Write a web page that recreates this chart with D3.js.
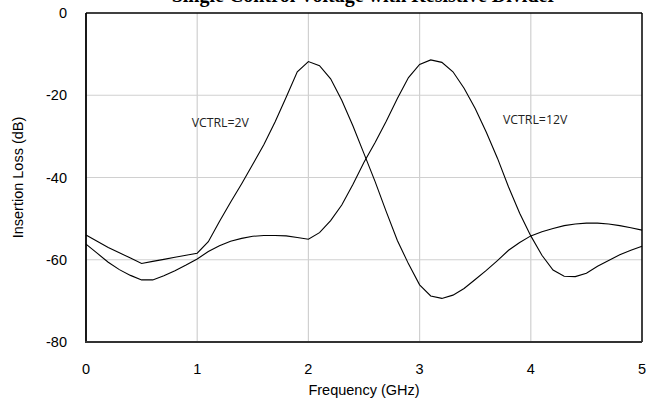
<!DOCTYPE html>
<html><head><meta charset="utf-8">
<script src="https://cdn.jsdelivr.net/npm/d3@7"></script>
<style>html,body{margin:0;padding:0;background:#fff;overflow:hidden}</style>
</head><body>
<script>
const freqs = d3.range(0, 51).map(i => +(i * 0.1).toFixed(1));
const vctrl2V = [-54.0,-55.5,-57.0,-58.3,-59.6,-60.9,-60.4,-59.9,-59.4,-58.9,
  -58.4,-55.6,-50.7,-46.0,-41.5,-36.8,-32.0,-26.5,-20.5,-14.3,
  -11.8,-12.8,-16.0,-21.2,-27.4,-34.2,-41.0,-48.3,-55.3,-61.0,
  -66.1,-68.8,-69.4,-68.6,-67.0,-64.8,-62.6,-60.2,-57.7,-55.8,
  -54.2,-53.2,-52.4,-51.7,-51.3,-51.1,-51.1,-51.3,-51.7,-52.2,-52.8];
const vctrl12V = [-56.2,-58.4,-60.6,-62.4,-63.8,-64.9,-64.9,-63.9,-62.7,-61.3,
  -59.8,-58.0,-56.6,-55.5,-54.8,-54.3,-54.1,-54.1,-54.2,-54.6,
  -55.0,-53.4,-50.5,-46.7,-41.7,-36.3,-31.5,-26.3,-20.8,-15.7,
  -12.5,-11.4,-12.0,-14.3,-18.3,-23.2,-29.0,-35.3,-42.3,-48.7,
  -54.2,-58.9,-62.5,-64.0,-64.1,-63.3,-61.6,-60.2,-58.8,-57.7,-56.7];
const xTicks = [0,1,2,3,4,5];
const yTicks = [0,-20,-40,-60,-80];
const title = "Single Control Voltage with Resistive Divider";
const labels = [{text:"VCTRL=2V", f:0.95, v:-27.8}, {text:"VCTRL=12V", f:3.75, v:-26.9}];

const W = 647, H = 401;
const L = 86, R = 642, T = 13, B = 342;
const svg = d3.select("body").append("svg").attr("width", W).attr("height", H);
const x = d3.scaleLinear().domain([0,5]).range([L,R]);
const y = d3.scaleLinear().domain([-80,0]).range([B,T]);

// grid
svg.append("g").selectAll("line").data(xTicks.slice(1,-1)).join("line")
  .attr("x1", d=>x(d)).attr("x2", d=>x(d)).attr("y1", T).attr("y2", B)
  .attr("stroke", "#d0d0d0").attr("stroke-width", 1.2);
svg.append("g").selectAll("line").data(yTicks.slice(1,-1)).join("line")
  .attr("y1", d=>y(d)).attr("y2", d=>y(d)).attr("x1", L).attr("x2", R)
  .attr("stroke", "#d0d0d0").attr("stroke-width", 1.2);

// frame
svg.append("line").attr("x1",L).attr("x2",R).attr("y1",T).attr("y2",T).attr("stroke","#000").attr("stroke-width",1.5);
svg.append("line").attr("x1",R).attr("x2",R).attr("y1",T).attr("y2",B).attr("stroke","#000").attr("stroke-width",1.5);
svg.append("line").attr("x1",L).attr("x2",L).attr("y1",T).attr("y2",B).attr("stroke","#000").attr("stroke-width",1.8);
svg.append("line").attr("x1",L-1).attr("x2",R).attr("y1",B).attr("y2",B).attr("stroke","#333").attr("stroke-width",2.2);

// tick labels
svg.append("g").selectAll("text").data(yTicks).join("text")
  .attr("x", L-19).attr("y", d=>y(d)+5).attr("text-anchor","end")
  .attr("font-family","Liberation Sans, Arial, sans-serif").attr("font-size",14.5).attr("fill","#000")
  .text(d=>d);
svg.append("g").selectAll("text").data(xTicks).join("text")
  .attr("x", d=>x(d)).attr("y", B+32).attr("text-anchor","middle")
  .attr("font-family","Liberation Sans, Arial, sans-serif").attr("font-size",14.5).attr("fill","#000")
  .text(d=>d);

// axis titles
svg.append("text").attr("x",(L+R)/2).attr("y",395).attr("text-anchor","middle")
  .attr("font-family","Liberation Sans, Arial, sans-serif").attr("font-size",14.5).text("Frequency (GHz)");
svg.append("text").attr("transform",`translate(23,${(T+B)/2}) rotate(-90)`).attr("text-anchor","middle")
  .attr("font-family","Liberation Sans, Arial, sans-serif").attr("font-size",14.5).text("Insertion Loss (dB)");

// title (partly above the page edge, as in the reference)
svg.append("text").attr("x",(L+R)/2).attr("y",2).attr("text-anchor","middle")
  .attr("font-family","Liberation Serif, Times New Roman, serif").attr("font-weight","bold").attr("font-size",20)
  .text(title);

// lines
const line = d3.line().x((d,i)=>x(freqs[i])).y(d=>y(d));
[vctrl2V, vctrl12V].forEach(s => {
  svg.append("path").datum(s).attr("d", line).attr("fill","none").attr("stroke","#000").attr("stroke-width",1.1);
});

// annotations
svg.append("g").selectAll("text").data(labels).join("text")
  .attr("x", d=>x(d.f)).attr("y", d=>y(d.v))
  .attr("font-family","Open Sans, sans-serif").attr("font-size",12.3).attr("fill","#222")
  .text(d=>d.text);
</script>
</body></html>
